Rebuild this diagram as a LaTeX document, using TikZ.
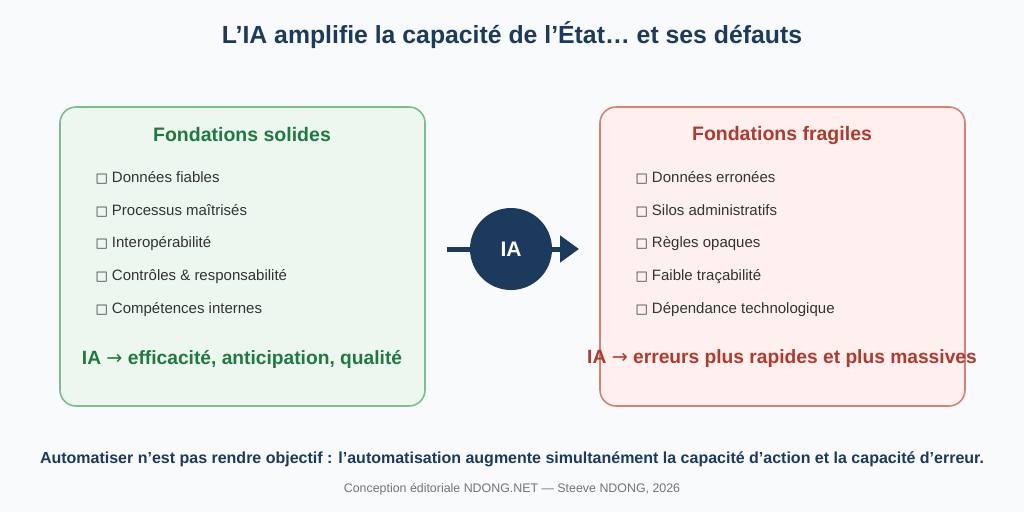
\documentclass[tikz,border=0pt]{standalone}
\usepackage{fontspec}
\setmainfont{Liberation Sans}
\newfontfamily\symfont{DejaVu Sans}
\usetikzlibrary{arrows.meta}
\definecolor{navy}{HTML}{1B3A5C}
\definecolor{okgreen}{HTML}{1E7A3E}
\definecolor{okline}{HTML}{7CBF8E}
\definecolor{okfill}{HTML}{EDF7F0}
\definecolor{badred}{HTML}{B03A2E}
\definecolor{badline}{HTML}{DA8079}
\definecolor{badfill}{HTML}{FDF0EF}
\definecolor{bg}{HTML}{F8FAFC}
\tikzset{box/.style={rounded corners=16pt, line width=1.6pt},
  head/.style={font=\fontsize{19.5}{22}\selectfont\bfseries},
  item/.style={anchor=west, text=black!80, font=\fontsize{15}{17}\selectfont},
  result/.style={font=\fontsize{19.2}{22}\selectfont\bfseries}}
\newcommand{\bx}{{\symfont\fontsize{13}{14}\selectfont □}\ }
\newcommand{\ar}{{\symfont\mdseries →}}
\begin{document}
\begin{tikzpicture}[x=1pt, y=-1pt]
\path[fill=bg] (0,0) rectangle (1024,512);
\useasboundingbox (0,0) rectangle (1024,512);
\node[text=navy, font=\fontsize{24.8}{28}\selectfont\bfseries] (title) at (512,35) {L’IA amplifie la capacité de l’État… et ses défauts};
% left box
\draw[box, draw=okline, fill=okfill] (60,107) rectangle (425,406);
\node[head, text=okgreen] (lhead) at (242,135) {Fondations solides};
\foreach \t [count=\i] in {Données fiables, Processus maîtrisés, Interopérabilité, Contrôles \& responsabilité, Compétences internes}
  \node[item] (l\i) at (92,145+33*\i) {\bx\t};
\node[result, text=okgreen] (lres) at (242,359) {IA \ar{} efficacité, anticipation, qualité};
% right box
\draw[box, draw=badline, fill=badfill] (600,107) rectangle (965,406);
\node[head, text=badred] (rhead) at (782,135) {Fondations fragiles};
\foreach \t [count=\i] in {Données erronées, Silos administratifs, Règles opaques, Faible traçabilité, Dépendance technologique}
  \node[item] (r\i) at (632,145+33*\i) {\bx\t};
\node[result, text=badred] (rres) at (782,359) {IA \ar{} erreurs plus rapides et plus massives};
% center
\coordinate (ain) at (447,249);
\coordinate (aout) at (579,249);
\draw[navy, line width=5pt, -{Triangle[length=19pt, width=26pt]}] (ain) -- (aout);
\node[circle, fill=navy, minimum size=82pt, text=white, font=\fontsize{21}{24}\selectfont\bfseries] (ia) at (511,249) {IA};
\node[text=navy, font=\fontsize{16}{19}\selectfont\bfseries] (foot) at (512,459) {Automatiser n’est pas rendre objectif : l’automatisation augmente simultanément la capacité d’action et la capacité d’erreur.};
\node[text=black!55, font=\fontsize{12.4}{14}\selectfont] (credit) at (512,489) {Conception éditoriale NDONG.NET — Steeve NDONG, 2026};
\end{tikzpicture}
\end{document}
